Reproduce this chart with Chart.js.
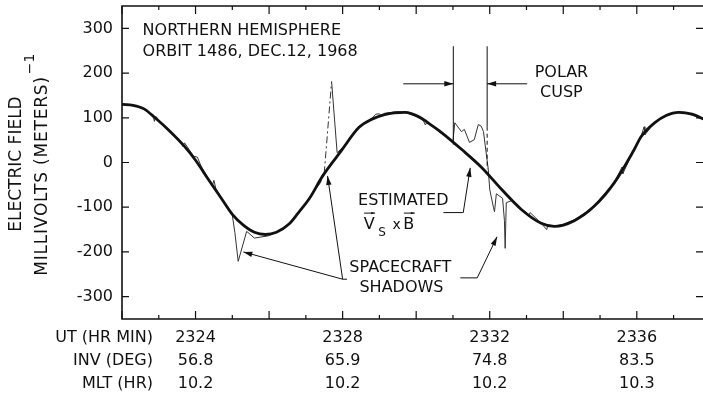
<!DOCTYPE html>
<html>
<head>
<meta charset="utf-8">
<script src="https://cdn.jsdelivr.net/npm/chart.js@4/dist/chart.umd.min.js"></script>
<style>
html, body { margin: 0; padding: 0; background: #fff; }
</style>
</head>
<body>
<canvas id="efield" width="703" height="397"></canvas>
<script>
// time axis is UT in hr-min (all within hour 23), field in mV/m
const minuteTicks = [2322, 2323, 2324, 2325, 2326, 2327, 2328, 2329, 2330, 2331, 2332, 2333, 2334, 2335, 2336, 2337];
const utLabels = [2324, 2328, 2332, 2336];
const invLabels = ['56.8', '65.9', '74.8', '83.5'];
const mltLabels = ['10.2', '10.2', '10.2', '10.3'];
const yTicks = [-300, -200, -100, 0, 100, 200, 300];

// estimated Vs x B (heavy smooth curve)
const vsbTime = [2322.0, 2322.3, 2322.6, 2322.9, 2323.3, 2323.7, 2324.0, 2324.35, 2324.7, 2325.0, 2325.3, 2325.6,
  2325.9, 2326.2, 2326.55, 2326.8, 2327.1, 2327.45, 2327.97, 2328.44, 2328.8, 2329.14, 2329.4, 2329.7, 2330.1,
  2330.42, 2330.69, 2331.24, 2331.78, 2332.32, 2332.86, 2333.4, 2333.76, 2334.3, 2334.84, 2335.39, 2335.93,
  2336.12, 2336.49, 2336.8, 2337.14, 2337.5, 2337.85];
const vsbField = [130, 128, 120, 100, 70, 36, 5, -38, -80, -116, -140, -156,
  -161, -156, -137, -112, -80, -31, 27, 78, 97, 107, 111, 112, 101,
  83, 67, 29, -11, -60, -105, -136, -143, -130, -98, -45, 29,
  58, 89, 105, 112, 108, 96];

// measured field (thin trace); the rise into the 2327.7 shadow spike is drawn dash-dot
const measTime = [2322.0, 2322.3, 2322.6, 2322.85, 2322.88, 2322.92, 2323.0, 2323.3, 2323.6, 2323.65, 2323.7,
  2323.95, 2324.05, 2324.15, 2324.35, 2324.45, 2324.5, 2324.55, 2324.8, 2325.0, 2325.07, 2325.16, 2325.39,
  2325.6, 2325.98, 2326.3, 2326.6, 2326.9, 2327.2, 2327.4, 2327.45, 2327.5, 2327.7, 2327.85, 2328.0, 2328.44,
  2328.8, 2328.9, 2329.0, 2329.05, 2329.14, 2329.5, 2329.7, 2330.0, 2330.2, 2330.25, 2330.3, 2330.6, 2331.0,
  2331.05, 2331.23, 2331.31, 2331.45, 2331.58, 2331.69, 2331.77, 2331.83, 2331.96, 2332.0, 2332.1, 2332.13,
  2332.18, 2332.35, 2332.4, 2332.42, 2332.45, 2332.6, 2332.86, 2333.0, 2333.05, 2333.1, 2333.4, 2333.55,
  2333.58, 2333.76, 2334.0, 2334.3, 2334.6, 2334.84, 2335.1, 2335.39, 2335.6, 2335.62, 2335.93, 2336.12,
  2336.2, 2336.22, 2336.49, 2336.8, 2337.0, 2337.14, 2337.3, 2337.5, 2337.85];
const measField = [131, 129, 119, 104, 92, 103, 95, 72, 45, 36, 44,
  14, 12, -8, -36, -53, -40, -58, -93, -118, -157, -221, -154,
  -169, -164, -152, -133, -103, -66, -45, -27, -24, 181, 22, 33, 80,
  99, 108, 109, 104, 110, 114, 112, 103, 93, 84, 91, 70, 47,
  89, 69, 74, 45, 51, 85, 81, 69, -15, -60, -100, -110,
  -70, -80, -130, -192, -90, -85, -104, -112, -120, -112, -136, -150,
  -140, -142, -138, -128, -112, -96, -72, -44, -10, -25, 30, 60,
  80, 62, 90, 107, 110, 113, 112, 106, 97];
const dashedFrom = 2327.5;

const FONT = '"DejaVu Sans", sans-serif';
const INK = '#111';

function pts(xs, ys) {
    return xs.map((x, i) => ({ x: x, y: ys[i] }));
}

const overlay = {
    id: 'overlay',
    afterDraw(chart) {
        const ctx = chart.ctx;
        const xs = chart.scales.x, ys = chart.scales.y;
        const { left, right, top, bottom } = chart.chartArea;
        const px = t => xs.getPixelForValue(t);
        const py = v => ys.getPixelForValue(v);

        ctx.save();
        ctx.strokeStyle = INK;
        ctx.fillStyle = INK;

        // frame (left, top, bottom)
        ctx.lineWidth = 1.6;
        ctx.beginPath();
        ctx.moveTo(right + 2, top);
        ctx.lineTo(left, top);
        ctx.lineTo(left, bottom);
        ctx.lineTo(right + 2, bottom);
        ctx.stroke();

        // inward tick marks
        ctx.lineWidth = 1.2;
        ctx.beginPath();
        xs.ticks.forEach(tk => {
            const x = px(tk.value);
            const len = tk.value % 2 === 0 ? 8 : 4;
            ctx.moveTo(x, bottom);
            ctx.lineTo(x, bottom - len);
            ctx.moveTo(x, top);
            ctx.lineTo(x, top + len);
        });
        ys.ticks.forEach(tk => {
            const y = py(tk.value);
            ctx.moveTo(left, y);
            ctx.lineTo(left + 7, y);
            ctx.moveTo(right, y);
            ctx.lineTo(right - 7, y);
        });
        ctx.stroke();

        // row captions for the multi-line x labels
        ctx.font = '16px ' + FONT;
        ctx.textAlign = 'right';
        ctx.textBaseline = 'middle';
        const rowY = xs.top + 7.5 + 11.5;
        ['UT (HR MIN)', 'INV (DEG)', 'MLT (HR)'].forEach((s, i) => {
            ctx.fillText(s, 153, rowY + i * 23);
        });

        // y axis title
        ctx.save();
        ctx.font = '17px ' + FONT;
        ctx.translate(17, 164);
        ctx.rotate(-Math.PI / 2);
        ctx.textAlign = 'center';
        ctx.fillText('ELECTRIC FIELD', 0, 0);
        ctx.restore();
        ctx.save();
        ctx.font = '17px ' + FONT;
        ctx.letterSpacing = '0.8px';
        ctx.translate(43, 176);
        ctx.rotate(-Math.PI / 2);
        ctx.textAlign = 'center';
        ctx.fillText('MILLIVOLTS (METERS)', 0, 0);
        const w = ctx.measureText('MILLIVOLTS (METERS)').width;
        ctx.letterSpacing = '0px';
        ctx.font = '14px ' + FONT;
        ctx.textAlign = 'left';
        ctx.fillText('\u22121', w / 2 + 2, -13);
        ctx.restore();

        // plot annotations
        ctx.font = '16px ' + FONT;
        ctx.textAlign = 'left';
        ctx.fillText('NORTHERN HEMISPHERE', px(2322.56), py(295));
        ctx.fillText('ORBIT 1486, DEC.12, 1968', px(2322.56), py(248));

        ctx.textAlign = 'center';
        ctx.fillText('POLAR', px(2333.95), py(200));
        ctx.fillText('CUSP', px(2333.95), py(156));
        ctx.fillText('ESTIMATED', px(2329.65), py(-86));
        ctx.fillText('SPACECRAFT', px(2329.57), py(-236));
        ctx.fillText('SHADOWS', px(2329.6), py(-280));

        // V_s x B
        const vx = px(2328.72), bx = px(2329.8), vy = py(-140);
        ctx.fillText('V', vx, vy);
        ctx.fillText('B', bx, vy);
        ctx.font = '12px ' + FONT;
        ctx.fillText('S', vx + 13, vy + 8);
        ctx.font = '14px ' + FONT;
        ctx.fillText('x', px(2329.47), vy);

        function arrow(x1, y1, x2, y2, head) {
            ctx.beginPath();
            ctx.moveTo(x1, y1);
            ctx.lineTo(x2, y2);
            ctx.stroke();
            const a = Math.atan2(y2 - y1, x2 - x1);
            const h = head || 9;
            ctx.beginPath();
            ctx.moveTo(x2, y2);
            ctx.lineTo(x2 - h * Math.cos(a) + h * 0.3 * Math.sin(a), y2 - h * Math.sin(a) - h * 0.3 * Math.cos(a));
            ctx.lineTo(x2 - h * Math.cos(a) - h * 0.3 * Math.sin(a), y2 - h * Math.sin(a) + h * 0.3 * Math.cos(a));
            ctx.closePath();
            ctx.fill();
        }

        ctx.lineWidth = 1;
        arrow(vx - 5, vy - 12, vx + 6, vy - 12, 4);
        arrow(bx - 5, vy - 12, bx + 6, vy - 12, 4);

        // polar cusp boundaries
        ctx.beginPath();
        ctx.moveTo(px(2331.01), py(260));
        ctx.lineTo(px(2331.01), py(40));
        ctx.moveTo(px(2331.93), py(260));
        ctx.lineTo(px(2331.93), py(80));
        ctx.stroke();
        ctx.setLineDash([4, 3]);
        ctx.beginPath();
        ctx.moveTo(px(2331.93), py(80));
        ctx.lineTo(px(2331.93), py(-15));
        ctx.stroke();
        ctx.setLineDash([]);
        arrow(px(2329.65), py(176), px(2331.01), py(176));
        arrow(px(2333.02), py(176), px(2331.93), py(176));

        // leaders
        ctx.beginPath();
        ctx.moveTo(px(2330.74), py(-112));
        ctx.lineTo(px(2331.28), py(-112));
        ctx.stroke();
        arrow(px(2331.28), py(-112), px(2331.47), py(-12));

        arrow(px(2328.0), py(-261), px(2325.3), py(-200));
        arrow(px(2328.0), py(-261), px(2327.59), py(-30));
        ctx.beginPath();
        ctx.moveTo(px(2328.0), py(-261));
        ctx.lineTo(px(2328.12), py(-261));
        ctx.stroke();

        ctx.beginPath();
        ctx.moveTo(px(2331.2), py(-258));
        ctx.lineTo(px(2331.66), py(-258));
        ctx.stroke();
        arrow(px(2331.66), py(-258), px(2332.2), py(-166));

        ctx.restore();
    }
};

new Chart(document.getElementById('efield').getContext('2d'), {
    type: 'line',
    data: {
        datasets: [
            {
                label: 'Estimated Vs x B',
                data: pts(vsbTime, vsbField),
                borderColor: INK,
                borderWidth: 2.8,
                pointRadius: 0,
                cubicInterpolationMode: 'monotone'
            },
            {
                label: 'Measured',
                data: pts(measTime, measField),
                borderColor: '#333',
                borderWidth: 1,
                pointRadius: 0,
                tension: 0,
                segment: {
                    borderDash: c => c.p0.parsed.x === dashedFrom ? [7, 3, 2, 3] : undefined
                }
            }
        ]
    },
    options: {
        responsive: false,
        animation: false,
        devicePixelRatio: 1,
        layout: { padding: { top: 6, right: 0, left: 0, bottom: 0 } },
        plugins: {
            legend: { display: false },
            tooltip: { enabled: false }
        },
        scales: {
            x: {
                type: 'linear',
                min: 2322,
                max: 2337.8,
                afterBuildTicks: axis => { axis.ticks = minuteTicks.map(v => ({ value: v })); },
                afterFit: axis => {
                    axis.height = 78;
                    axis.paddingLeft = 0;
                    axis.paddingRight = 0;
                },
                grid: { display: false, drawTicks: false },
                border: { display: false },
                ticks: {
                    autoSkip: false,
                    maxRotation: 0,
                    padding: 7.5,
                    color: INK,
                    font: { family: FONT, size: 16, lineHeight: '23px' },
                    callback: function(value) {
                        const i = utLabels.indexOf(value);
                        return i < 0 ? '' : [String(value), invLabels[i], mltLabels[i]];
                    }
                }
            },
            y: {
                min: -350,
                max: 350,
                afterBuildTicks: axis => { axis.ticks = yTicks.map(v => ({ value: v })); },
                afterFit: axis => {
                    axis.width = 122;
                    axis.paddingTop = 0;
                    axis.paddingBottom = 0;
                },
                grid: { display: false, drawTicks: false },
                border: { display: false },
                ticks: {
                    padding: 9,
                    color: INK,
                    font: { family: FONT, size: 16 },
                    callback: value => String(value)
                }
            }
        }
    },
    plugins: [overlay]
});
</script>
</body>
</html>
